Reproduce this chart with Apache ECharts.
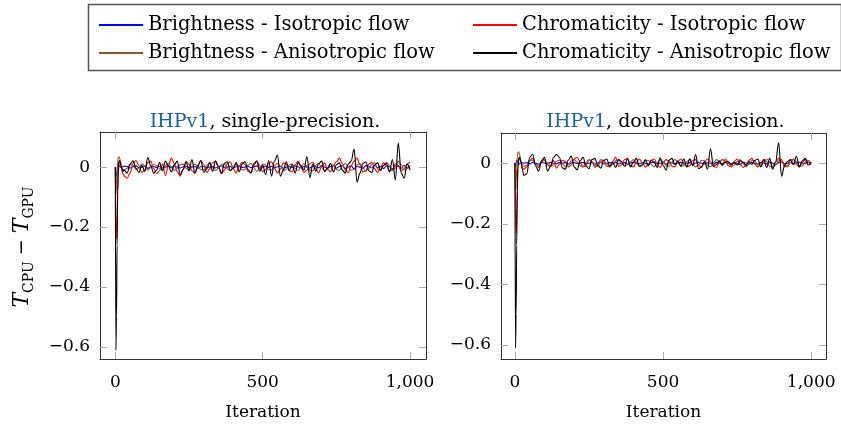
<!DOCTYPE html>
<html>
<head>
<meta charset="utf-8">
<script src="https://cdn.jsdelivr.net/npm/echarts@6/dist/echarts.min.js"></script>
<style>
  html, body { margin: 0; padding: 0; background: #fff; }
  #chart { width: 841px; height: 428px; }
</style>
</head>
<body>
<div id="chart"></div>
<script>
// x positions (iteration) shared by every curve
const iterations = [
  0, 2, 4, 6, 8, 10, 13, 16, 20, 25, 30,
  40, 50, 60, 70, 80, 90, 100, 110, 120, 130,
  140, 150, 160, 170, 180, 190, 200, 210, 220, 230,
  240, 250, 260, 270, 280, 290, 300, 310, 320, 330,
  340, 350, 360, 370, 380, 390, 400, 410, 420, 430,
  440, 450, 460, 470, 480, 490, 500, 510, 520, 530,
  540, 550, 560, 570, 580, 590, 600, 610, 620, 630,
  640, 650, 660, 670, 680, 690, 700, 710, 720, 730,
  740, 750, 760, 770, 780, 790, 800, 810, 820, 830,
  840, 850, 860, 870, 880, 890, 900, 910, 920, 930,
  940, 950, 960, 970, 980, 990, 1000
]

const xTicks = [0, 500, 1000]
const yTicks = [0, -0.2, -0.4, -0.6]

const seriesNames = [
  'Brightness - Isotropic flow',
  'Chromaticity - Isotropic flow',
  'Brightness - Anisotropic flow',
  'Chromaticity - Anisotropic flow'
]
const seriesColors = ['#0000ff', '#ff0000', '#8c5a28', '#000000']

// ---- single precision (left panel) ----
const singleBrightIso = [
  0, -0.025, -0.03, -0.012, 0.002, 0.006, 0.004, 0.001, -0.002, 0.001, 0.003,
  0.002, -0.003, 0.001, 0.004, -0.002, 0.000, 0.003, -0.004, 0.001, 0.002,
  -0.001, 0.003, -0.003, 0.000, 0.002, -0.002, 0.004, 0.000, -0.003, 0.001,
  0.003, -0.002, 0.000, 0.002, -0.004, 0.001, 0.003, -0.001, 0.000, 0.002,
  -0.003, 0.001, 0.004, -0.002, 0.000, 0.002, -0.003, 0.001, 0.003, -0.001,
  0.000, 0.003, -0.002, 0.001, 0.004, -0.003, 0.000, 0.002, -0.001, 0.003,
  -0.002, 0.001, 0.003, -0.004, 0.000, 0.002, -0.002, 0.004, 0.001, -0.003,
  0.002, 0.000, -0.003, 0.003, 0.001, -0.002, 0.004, 0.000, -0.003, 0.002,
  0.005, -0.004, 0.002, 0.006, -0.005, 0.001, 0.004, -0.006, 0.003, 0.000,
  -0.004, 0.005, 0.001, -0.003, 0.006, -0.002, 0.003, -0.005, 0.004, 0.001,
  -0.006, 0.005, 0.002, -0.004, 0.006, -0.003, 0.002
]
const singleChromaIso = [
  0, -0.16, -0.24, -0.2, -0.09, -0.02, 0.012, 0.018, 0.005, -0.02, -0.03,
  -0.037, -0.02, 0.012, 0.022, 0.005, -0.018, -0.01, 0.015, 0.02, -0.005,
  -0.022, -0.012, 0.01, -0.028, 0.005, 0.03, 0.012, -0.015, -0.03, -0.008,
  0.018, 0.01, -0.012, -0.02, 0.005, 0.022, 0.008, -0.018, -0.006, 0.015,
  0.02, -0.004, -0.022, -0.01, 0.012, 0.018, -0.005, -0.02, 0.003, 0.016,
  0.008, -0.014, -0.018, 0.006, 0.02, 0.004, -0.016, -0.008, 0.012, 0.018,
  -0.004, -0.02, -0.006, 0.014, 0.01, -0.012, -0.016, 0.008, 0.02, 0.002,
  -0.018, -0.01, 0.012, 0.016, -0.006, -0.02, 0.004, 0.014, -0.008, -0.016,
  0.006, 0.018, 0.03, 0.012, -0.01, -0.018, 0.004, 0.02, 0.03, 0.008,
  -0.016, -0.012, 0.01, 0.016, -0.006, -0.018, 0.002, 0.014, 0.006, -0.012,
  -0.01, 0.012, 0.006, -0.014, -0.004, 0.01, 0.017
]
const singleBrightAniso = [
  0, -0.09, -0.06, -0.01, 0.02, 0.032, 0.034, 0.025, 0.008, -0.006, -0.01,
  -0.004, 0.008, 0.006, -0.008, -0.004, 0.01, 0.004, -0.01, -0.002, 0.008,
  0.006, -0.006, -0.01, 0.004, 0.012, 0.002, -0.012, -0.004, 0.008, 0.01,
  -0.004, -0.012, 0.002, 0.01, 0.004, -0.008, -0.01, 0.006, 0.012, -0.002,
  -0.012, -0.004, 0.008, 0.01, -0.006, -0.012, 0.002, 0.01, 0.004, -0.01,
  -0.008, 0.006, 0.012, -0.002, -0.014, -0.004, 0.01, 0.008, -0.008, -0.01,
  0.004, 0.012, 0.002, -0.012, -0.008, 0.008, 0.01, -0.004, -0.012, 0.002,
  0.012, 0.004, -0.01, -0.012, 0.006, 0.012, -0.002, -0.012, -0.004, 0.01,
  0.006, -0.008, -0.012, 0.004, 0.012, 0.002, -0.01, -0.008, 0.008, 0.012,
  -0.002, -0.014, -0.004, 0.01, 0.014, -0.006, -0.012, 0.004, 0.016, 0.006,
  -0.012, -0.004, 0.02, 0.008, -0.01, -0.004, 0.006
]
const singleChromaAniso = [
  0, -0.61, -0.5, -0.26, -0.08, 0.0, 0.022, 0.018, 0.0, -0.015, -0.01,
  -0.02, 0.01, 0.021, -0.004, -0.018, 0.006, -0.015, 0.032, 0.005, -0.02,
  -0.01, 0.015, -0.012, 0.02, 0.004, -0.016, 0.008, 0.02, -0.025, -0.008,
  0.018, -0.012, 0.025, -0.02, 0.004, 0.022, -0.018, -0.006, 0.016, -0.014,
  0.02, 0.002, -0.02, 0.012, 0.018, -0.012, -0.004, 0.015, -0.016, 0.01,
  0.018, -0.008, -0.02, 0.012, 0.02, -0.014, 0.006, -0.025, 0.022, -0.03,
  0.02, 0.04, -0.03, -0.01, 0.018, -0.012, 0.008, -0.02, 0.015, 0.004,
  -0.01, 0.035, -0.035, 0.01, -0.014, 0.012, 0.02, -0.015, -0.004, 0.012,
  -0.016, 0.008, 0.014, -0.01, -0.02, 0.01, 0.02, 0.06, -0.05, -0.02,
  0.012, 0.018, -0.012, -0.018, 0.008, 0.014, -0.01, 0.006, 0.012, -0.016,
  0.025, -0.043, 0.08, -0.02, -0.037, 0.01, -0.01
]

// ---- double precision (right panel) ----
const doubleBrightIso = [
  0, -0.01, 0.004, 0.01, 0.006, 0.002, 0.0, -0.002, 0.001, 0.002, 0.0,
  0.002, -0.002, 0.003, 0.000, -0.003, 0.002, 0.001, -0.002, 0.003, 0.000,
  -0.002, 0.002, 0.000, 0.003, -0.003, 0.001, 0.002, -0.001, 0.000, 0.003,
  -0.002, 0.000, 0.002, -0.003, 0.001, 0.003, -0.002, 0.000, 0.002, -0.001,
  0.003, -0.002, 0.000, 0.002, -0.003, 0.001, 0.003, 0.000, -0.002, 0.002,
  0.000, -0.003, 0.002, 0.003, -0.001, 0.000, 0.002, -0.003, 0.001, 0.002,
  -0.002, 0.001, 0.003, -0.002, 0.000, 0.002, -0.003, 0.001, 0.003, 0.000,
  -0.002, 0.002, 0.000, -0.003, 0.003, 0.001, -0.001, 0.002, 0.000, -0.002,
  0.003, 0.000, -0.003, 0.002, 0.001, -0.002, 0.003, 0.000, -0.003, 0.002,
  0.001, -0.002, 0.003, 0.000, -0.004, 0.002, 0.004, -0.002, 0.000, 0.003,
  -0.003, 0.001, 0.004, -0.002, 0.000, 0.003, 0.001
]
const doubleChromaIso = [
  0, -0.15, -0.23, -0.19, -0.08, -0.015, 0.01, 0.015, 0.005, -0.015, -0.02,
  -0.012, 0.01, 0.016, -0.004, -0.014, 0.008, 0.014, -0.006, -0.012, 0.01,
  -0.016, -0.004, 0.01, 0.006, -0.012, -0.006, 0.014, 0.02, 0.004, -0.012,
  -0.008, 0.012, 0.006, -0.014, -0.004, 0.012, 0.008, -0.01, -0.012, 0.006,
  0.02, -0.01, -0.006, 0.012, 0.016, -0.008, -0.012, 0.004, 0.014, 0.002,
  -0.012, -0.006, 0.01, 0.014, -0.004, -0.014, 0.002, 0.012, 0.008, -0.01,
  -0.012, 0.006, 0.014, 0.002, -0.012, -0.008, 0.01, 0.012, -0.006, -0.014,
  0.004, 0.014, 0.006, -0.01, -0.014, 0.004, 0.012, 0.008, -0.008, -0.012,
  0.006, 0.014, -0.002, -0.014, -0.006, 0.01, 0.016, -0.004, -0.012, 0.002,
  0.012, 0.006, -0.01, -0.014, 0.004, 0.016, 0.006, -0.012, -0.008, 0.01,
  0.014, -0.004, -0.012, 0.002, 0.012, 0.004, -0.006
]
const doubleBrightAniso = [
  0, -0.1, -0.07, -0.015, 0.02, 0.036, 0.038, 0.028, 0.01, -0.005, -0.01,
  -0.006, 0.008, 0.01, -0.004, -0.01, 0.004, 0.01, 0.002, -0.008, -0.006,
  0.006, 0.01, -0.002, -0.012, -0.004, 0.008, 0.012, 0.004, -0.008, -0.012,
  0.002, 0.012, 0.006, -0.008, -0.01, 0.004, 0.01, -0.002, -0.012, -0.004,
  0.008, 0.012, 0.0, -0.01, -0.006, 0.006, 0.012, 0.002, -0.01, -0.006,
  0.008, 0.01, -0.004, -0.012, 0.002, 0.012, 0.006, -0.008, -0.01, 0.004,
  0.012, 0.004, -0.01, -0.008, 0.006, 0.012, -0.002, -0.012, -0.004, 0.01,
  0.008, -0.006, -0.012, 0.002, 0.012, 0.006, -0.008, 0.015, 0.004, -0.01,
  -0.008, 0.006, 0.012, 0.0, -0.012, -0.004, 0.01, 0.008, -0.006, -0.01,
  0.004, 0.014, 0.004, -0.012, -0.006, 0.008, 0.012, -0.004, -0.012, 0.002,
  0.012, 0.006, -0.008, -0.01, 0.004, 0.01, 0.002
]
const doubleChromaAniso = [
  0, -0.61, -0.5, -0.27, -0.09, -0.01, 0.018, 0.02, 0.005, -0.02, -0.04,
  -0.035, 0.02, 0.03, -0.01, -0.026, 0.008, 0.02, -0.026, -0.01, 0.018,
  0.03, 0.02, -0.015, -0.02, 0.01, 0.024, -0.012, -0.022, 0.008, 0.02,
  -0.01, -0.018, 0.012, 0.016, -0.008, -0.016, 0.01, 0.014, -0.01, 0.004,
  -0.014, 0.012, 0.006, -0.01, 0.015, -0.012, 0.004, 0.016, -0.01, -0.006,
  0.012, -0.008, 0.01, 0.004, -0.014, 0.018, -0.006, -0.023, 0.01, 0.016,
  -0.004, 0.008, -0.01, 0.014, -0.012, 0.015, -0.008, 0.029, -0.018, -0.012,
  0.006, -0.02, 0.049, -0.01, -0.004, 0.008, -0.006, 0.004, 0.006, -0.004,
  0.002, -0.006, 0.008, 0.004, -0.008, 0.006, -0.004, 0.01, 0.014, -0.012,
  0.012, -0.014, 0.016, -0.02, 0.004, 0.068, -0.043, -0.008, 0.006, 0.012,
  -0.004, 0.023, -0.012, 0.008, 0.016, -0.006, 0.002
]

const panels = [
  { title: 'single-precision.', curves: [singleBrightIso, singleChromaIso, singleBrightAniso, singleChromaAniso],
    grid: { left: 100, top: 132, width: 326, height: 227 }, xMin: -52, xMax: 1054, yMin: -0.64, yMax: 0.117 },
  { title: 'double-precision.', curves: [doubleBrightIso, doubleChromaIso, doubleBrightAniso, doubleChromaAniso],
    grid: { left: 501, top: 133, width: 325, height: 226 }, xMin: -47, xMax: 1050, yMin: -0.647, yMax: 0.1 }
]

const font = 'DejaVu Serif'
const frame = { show: true, onZero: false, lineStyle: { color: '#333', width: 1 } }
const tick = (vals) => ({ show: true, inside: true, length: 7, customValues: vals, lineStyle: { color: '#aaa', width: 1 } })
const fmtY = v => (v === 0 ? '0' : (v < 0 ? '\u2212' : '') + Math.abs(v).toFixed(1))
const fmtX = v => Number(v).toLocaleString('en-US')

const grids = [], xAxes = [], yAxes = [], series = [], titles = []
panels.forEach((p, gi) => {
  grids.push(p.grid)
  // bottom axis with labels + top axis for mirrored ticks
  xAxes.push({
    gridIndex: gi, type: 'value', position: 'bottom', min: p.xMin, max: p.xMax,
    axisLine: frame, axisTick: tick(xTicks), splitLine: { show: false },
    axisLabel: { customValues: xTicks, formatter: fmtX, margin: 15, color: '#000', fontFamily: font, fontSize: 17 },
    name: 'Iteration', nameLocation: 'middle', nameGap: 45,
    nameTextStyle: { color: '#000', fontFamily: font, fontSize: 17 }
  })
  xAxes.push({
    gridIndex: gi, type: 'value', position: 'top', min: p.xMin, max: p.xMax,
    axisLine: frame, axisTick: tick(xTicks), axisLabel: { show: false }, splitLine: { show: false }
  })
  yAxes.push({
    gridIndex: gi, type: 'value', position: 'left', min: p.yMin, max: p.yMax,
    axisLine: frame, axisTick: tick(yTicks), splitLine: { show: false },
    axisLabel: { customValues: yTicks, formatter: fmtY, margin: 10, color: '#000', fontFamily: font, fontSize: 17 }
  })
  yAxes.push({
    gridIndex: gi, type: 'value', position: 'right', min: p.yMin, max: p.yMax,
    axisLine: frame, axisTick: tick(yTicks), axisLabel: { show: false }, splitLine: { show: false }
  })
  titles.push({
    text: '{b|IHPv1}, ' + p.title,
    left: p.grid.left + p.grid.width / 2 - 3, top: 108, textAlign: 'center',
    textStyle: {
      color: '#000', fontFamily: font, fontSize: 19, fontWeight: 'normal',
      rich: { b: { color: '#1f5fa8', fontFamily: font, fontSize: 19 } }
    }
  })
  p.curves.forEach((vals, si) => {
    series.push({
      name: seriesNames[si], type: 'line', xAxisIndex: gi * 2, yAxisIndex: gi * 2,
      data: iterations.map((x, i) => [x, vals[i]]),
      symbol: 'none', smooth: 0.35, smoothMonotone: 'x', clip: true,
      lineStyle: { color: seriesColors[si], width: 1.1 }, itemStyle: { color: seriesColors[si] },
      animation: false, z: 2 + si
    })
  })
})

const legendStyle = {
  orient: 'vertical', top: 9, itemGap: 6, itemWidth: 44, itemHeight: 2, icon: 'rect',
  textStyle: { color: '#000', fontFamily: font, fontSize: 19.5, lineHeight: 22 }, selectedMode: false
}

const chart = echarts.init(document.getElementById('chart'), null, { renderer: 'canvas' })
chart.setOption({
  animation: false,
  backgroundColor: '#fff',
  title: titles,
  legend: [
    Object.assign({ left: 94, data: [seriesNames[0], seriesNames[2]] }, legendStyle),
    Object.assign({ left: 468, data: [seriesNames[1], seriesNames[3]] }, legendStyle)
  ],
  grid: grids,
  xAxis: xAxes,
  yAxis: yAxes,
  series: series,
  graphic: [
    {
      type: 'rect', left: 86, top: 2, z: -1, silent: true,
      shape: { width: 753, height: 66 },
      style: { fill: 'none', stroke: '#555', lineWidth: 1.5 }
    },
    {
      type: 'text', x: 22, y: 247, rotation: Math.PI / 2, silent: true,
      style: {
        text: '{i|T}{s|CPU}{m| \u2212 }{i|T}{s|GPU}',
        align: 'center', verticalAlign: 'middle', fill: '#000',
        rich: {
          i: { fontFamily: font, fontStyle: 'italic', fontSize: 22, lineHeight: 28, verticalAlign: 'middle' },
          m: { fontFamily: font, fontSize: 19, lineHeight: 28, verticalAlign: 'middle' },
          s: { fontFamily: font, fontSize: 14, lineHeight: 28, verticalAlign: 'bottom', padding: [10, 0, 0, 0] }
        }
      }
    }
  ]
})
</script>
</body>
</html>
